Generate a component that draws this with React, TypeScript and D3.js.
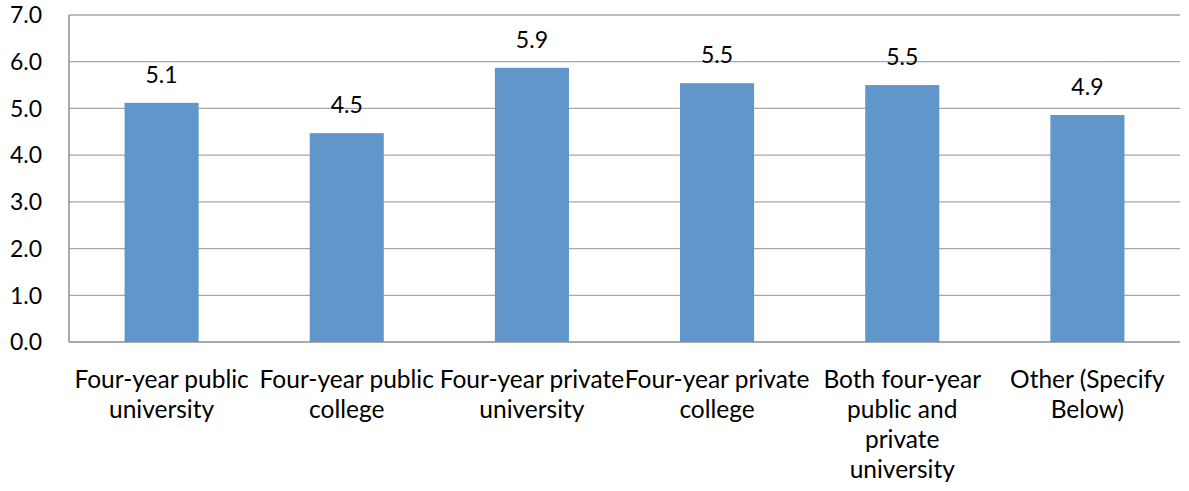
import React, { useEffect, useRef } from "react";
import * as d3 from "d3";

const categories = [
  "Four-year public university",
  "Four-year public college",
  "Four-year private university",
  "Four-year private college",
  "Both four-year public and private university",
  "Other (Specify Below)",
];
const categoryLines = [
  ["Four-year public", "university"],
  ["Four-year public", "college"],
  ["Four-year private", "university"],
  ["Four-year private", "college"],
  ["Both four-year", "public and", "private", "university"],
  ["Other (Specify", "Below)"],
];
const values = [5.12, 4.47, 5.87, 5.54, 5.5, 4.86];
const valueLabels = ["5.1", "4.5", "5.9", "5.5", "5.5", "4.9"];
const yTicks = [0, 1, 2, 3, 4, 5, 6, 7];

const W = 1189;
const H = 491;
const FONT = "Lato, 'Open Sans', sans-serif";

export default function App() {
  const ref = useRef<SVGSVGElement>(null);
  useEffect(() => {
    const svg = d3.select(ref.current);
    svg.selectAll("*").remove();
    const left = 69, right = 1180, top = 15, bottom = 342;
    const x = d3.scaleBand<string>().domain(categories).range([left, right]).paddingInner(0.6).paddingOuter(0.3);
    const y = d3.scaleLinear().domain([0, 7]).range([bottom, top]);

    svg.append("g").selectAll("line").data(yTicks.filter((t) => t > 0)).join("line")
      .attr("x1", left).attr("x2", right)
      .attr("y1", (d) => y(d)).attr("y2", (d) => y(d))
      .attr("stroke", "#a6a6a6").attr("stroke-width", 1.3);

    svg.append("g").selectAll("text").data(yTicks).join("text")
      .attr("x", 42).attr("y", (d) => y(d)).attr("dy", "0.36em")
      .attr("text-anchor", "end").attr("font-family", FONT).attr("font-size", 23)
      .attr("fill", "#000").text((d) => d.toFixed(1));

    svg.append("g").selectAll("rect").data(values).join("rect")
      .attr("x", (_, i) => x(categories[i])!)
      .attr("width", x.bandwidth())
      .attr("y", (d) => y(d)).attr("height", (d) => bottom - y(d))
      .attr("fill", "#6096c9");

    svg.append("g").selectAll("text").data(values).join("text")
      .attr("x", (_, i) => x(categories[i])! + x.bandwidth() / 2)
      .attr("y", (d) => y(d) - 20)
      .attr("text-anchor", "middle").attr("font-family", FONT).attr("font-size", 23)
      .attr("fill", "#000").text((_, i) => valueLabels[i]);

    svg.append("line").attr("x1", left).attr("x2", left).attr("y1", top).attr("y2", bottom)
      .attr("stroke", "#8c8c8c").attr("stroke-width", 1.5);
    svg.append("line").attr("x1", left).attr("x2", right).attr("y1", bottom).attr("y2", bottom)
      .attr("stroke", "#8c8c8c").attr("stroke-width", 1.5);

    categories.forEach((c, i) => {
      const cx = x(c)! + x.bandwidth() / 2;
      const t = svg.append("text")
        .attr("text-anchor", "middle").attr("font-family", FONT).attr("font-size", 24.5).attr("fill", "#000");
      categoryLines[i].forEach((ln, j) => {
        t.append("tspan").attr("x", cx).attr("y", 388 + j * 30).text(ln);
      });
    });
  }, []);
  return <svg ref={ref} width={W} height={H} style={{ position: "absolute", left: 0, top: 0 }} />;
}
